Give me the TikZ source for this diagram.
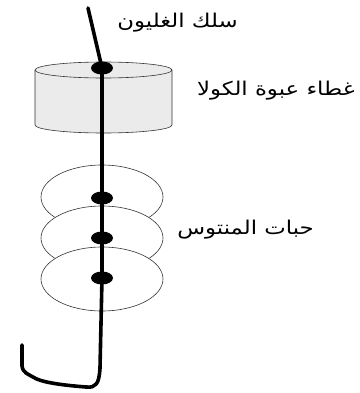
\documentclass[tikz,border=0pt]{standalone}
\usepackage{fontspec}
\usetikzlibrary{shapes.geometric}
\TeXXeTstate=1
\newfontfamily\arabicfont[Script=Arabic,FakeStretch=1.2]{DejaVu Sans}
\definecolor{capgray}{HTML}{EBEBEB}
\begin{document}
\begin{tikzpicture}[x=1pt,y=-1pt,
  outline/.style={draw=black!80,line width=0.6pt},
  bead/.style={outline,fill=white},
  knot/.style={shape=ellipse,fill=black,inner sep=0pt,minimum width=22pt,minimum height=13pt},
  wire/.style={line width=3.6pt,line cap=round,line join=round},
  label/.style={anchor=east,inner sep=0pt,font=\arabicfont\fontsize{19}{22}\selectfont}]
\useasboundingbox (0,0) rectangle (359,393);

% bottle cap (cylinder)
\fill[capgray] (35,70) -- (35,125) arc[start angle=180,end angle=0,x radius=68.5,y radius=8] -- (172,70) -- cycle;
\draw[outline] (35,70) -- (35,125) arc[start angle=180,end angle=0,x radius=68.5,y radius=8] -- (172,70);
\draw[outline,fill=capgray] (103.5,70) ellipse[x radius=68.5,y radius=8];

% mentos candies, each lower one covering the one above
\draw[bead] (102,197) ellipse[x radius=61,y radius=32];
\draw[bead] (102,238) ellipse[x radius=61,y radius=32];
\draw[bead] (102,279) ellipse[x radius=61,y radius=32];

% pipe-cleaner wire
\coordinate (top) at (88,8);
\coordinate (bend) at (100,368);
\coordinate (tip) at (22,345);
\node[knot] (k1) at (102,68) {};
\node[knot] (k2) at (102,198) {};
\node[knot] (k3) at (102,238) {};
\node[knot] (k4) at (102,278) {};
\draw[wire] (top) -- (k1.center) -- (k2.center) -- (k3.center) -- (k4.center) -- (bend)
  .. controls (99,384) and (96,388) .. (86,387)
  .. controls (60,385) and (40,382) .. (33,377)
  .. controls (28,374) and (23,373) .. (22,366) -- (tip);

% labels
\node[label] (l1) at (238,23) {\beginR سلك الغليون\endR};
\node[label] (l2) at (355,91) {\beginR غطاء عبوة الكولا\endR};
\node[label] (l3) at (314,230) {\beginR حبات المنتوس\endR};
\end{tikzpicture}
\end{document}
